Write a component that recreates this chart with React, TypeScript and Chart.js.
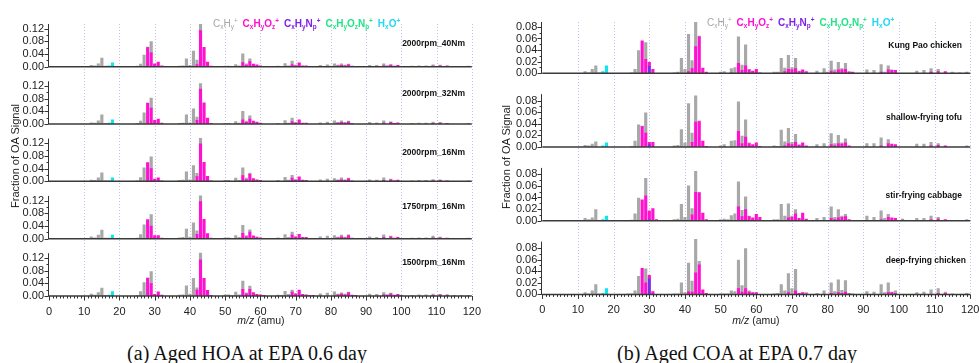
import React, { useEffect, useRef } from "react";
import { Chart, registerables } from "chart.js";

Chart.register(...registerables);

type Pt = [number, number];

// ---------- axis / tick definitions ----------
const MZ_MIN = 0;
const MZ_MAX = 120;
const MZ_STEP = 10;
const GRID_MZ = [10, 20, 30, 40, 50, 60, 70, 80, 90, 100, 110, 120];
const HOA_Y_TICKS = [0, 0.04, 0.08, 0.12];
const HOA_Y_MINOR = [0.02, 0.06, 0.1];
const COA_Y_TICKS = [0, 0.02, 0.04, 0.06, 0.08];
const COA_Y_MINOR = [0.01, 0.03, 0.05, 0.07];

const HOA_LABELS = ["2000rpm_40Nm", "2000rpm_32Nm", "2000rpm_16Nm", "1750rpm_16Nm", "1500rpm_16Nm"];
const COA_LABELS = ["Kung Pao chicken", "shallow-frying tofu", "stir-frying cabbage", "deep-frying chicken"];
const CAPTION_A = "(a) Aged HOA at EPA 0.6 day";
const CAPTION_B = "(b) Aged COA at EPA 0.7 day";
const Y_TITLE = "Fraction of OA Signal";

const FAMILY_KEYS = ["CHN", "CHO", "CHON", "HO", "CH"];
const FAMILY_NAMES: any = { CH: "CxHy+", CHO: "CxHyOz+", CHN: "CxHyNp+", CHON: "CxHyOzNp+", HO: "HxO+" };
const BAR_COLORS: any = { CH: "#a8a8a8", CHO: "#ff12cf", CHN: "#7a2fe6", CHON: "#20e080", HO: "#10e4f0" };
const LEGEND_COLORS: any = { CH: "#a6a6a6", CHO: "#ff10d0", CHN: "#7f22e8", CHON: "#22e486", HO: "#22d8f4" };

// ---------- (a) Aged HOA ----------
const HOA_40_CH: Pt[] = [[12,.004],[13,.003],[14,.009],[15,.027],[16,.002],[24,.001],[25,.002],[26,.008],[27,.037],[28,.002],[29,.035],[30,.001],[36,.001],[37,.002],[38,.003],[39,.025],[40,.004],[41,.049],[42,.014],[43,.021],[50,.002],[51,.002],[52,.001],[53,.007],[54,.003],[55,.028],[56,.004],[57,.009],[62,.001],[63,.001],[65,.002],[66,.001],[67,.010],[68,.003],[69,.011],[70,.002],[77,.004],[78,.001],[79,.006],[80,.002],[81,.009],[82,.002],[83,.005],[84,.002],[85,.002],[89,.001],[91,.004],[92,.001],[93,.004],[95,.006],[96,.001],[97,.002],[103,.002],[105,.003],[107,.003],[109,.004],[111,.002],[113,.001],[117,.001],[119,.002]];
const HOA_40_CHO: Pt[] = [[28,.060],[29,.044],[30,.008],[31,.015],[32,.003],[42,.007],[43,.114],[44,.061],[45,.015],[46,.002],[47,.001],[55,.013],[56,.005],[57,.016],[58,.008],[59,.006],[60,.003],[61,.001],[69,.007],[70,.003],[71,.012],[72,.003],[73,.003],[74,.001],[82,.003],[83,.004],[84,.003],[85,.006],[86,.002],[87,.001],[95,.003],[96,.002],[97,.005],[98,.002],[99,.004],[100,.001],[109,.002],[111,.003],[113,.002],[115,.001]];
const HOA_40_HO: Pt[] = [[17,.003],[18,.012]];

const HOA_32_CH: Pt[] = [[12,.004],[13,.003],[14,.010],[15,.029],[16,.002],[25,.002],[26,.009],[27,.035],[29,.032],[37,.002],[38,.003],[39,.029],[40,.004],[41,.048],[42,.010],[43,.018],[50,.002],[51,.002],[53,.008],[54,.003],[55,.027],[56,.004],[57,.010],[65,.002],[67,.011],[68,.003],[69,.011],[70,.002],[77,.004],[79,.006],[81,.010],[82,.002],[83,.005],[84,.002],[85,.002],[91,.005],[93,.004],[95,.007],[97,.002],[103,.002],[105,.003],[107,.003],[109,.004],[111,.002],[119,.002]];
const HOA_32_CHO: Pt[] = [[28,.066],[29,.050],[30,.012],[31,.016],[32,.003],[42,.012],[43,.110],[44,.067],[45,.019],[46,.002],[55,.013],[56,.005],[57,.016],[58,.009],[59,.006],[60,.003],[69,.008],[70,.003],[71,.013],[72,.003],[73,.003],[82,.003],[83,.005],[84,.003],[85,.007],[86,.002],[95,.003],[97,.005],[98,.002],[99,.004],[109,.002],[111,.003],[113,.002]];
const HOA_32_HO: Pt[] = [[17,.003],[18,.013]];

const HOA_2016_CH: Pt[] = [[12,.004],[13,.003],[14,.011],[15,.027],[16,.002],[25,.002],[26,.012],[27,.043],[29,.037],[37,.003],[38,.004],[39,.030],[40,.005],[41,.050],[42,.010],[43,.018],[50,.003],[51,.003],[53,.010],[54,.003],[55,.025],[56,.004],[57,.004],[65,.003],[67,.013],[68,.004],[69,.009],[70,.002],[77,.005],[79,.007],[81,.009],[82,.002],[83,.006],[84,.002],[85,.002],[91,.005],[93,.004],[95,.008],[97,.002],[103,.002],[105,.003],[107,.003],[109,.004],[111,.002],[119,.002]];
const HOA_2016_CHO: Pt[] = [[28,.059],[29,.040],[30,.007],[31,.011],[32,.002],[42,.015],[43,.118],[44,.060],[45,.016],[46,.002],[55,.018],[56,.006],[57,.022],[58,.009],[59,.005],[60,.003],[69,.010],[70,.004],[71,.014],[72,.004],[73,.003],[82,.003],[83,.005],[84,.003],[85,.008],[86,.002],[95,.003],[97,.005],[98,.002],[99,.004],[109,.002],[111,.003],[113,.002]];
const HOA_2016_HO: Pt[] = [[17,.002],[18,.011]];

const HOA_1750_CH: Pt[] = [[12,.006],[13,.003],[14,.011],[15,.027],[16,.002],[25,.002],[26,.013],[27,.044],[29,.036],[37,.003],[38,.004],[39,.030],[40,.005],[41,.050],[42,.011],[43,.018],[50,.003],[51,.003],[53,.010],[54,.004],[55,.025],[56,.004],[57,.007],[65,.003],[67,.013],[68,.004],[69,.010],[70,.002],[77,.006],[79,.008],[81,.010],[82,.002],[83,.005],[84,.002],[85,.002],[91,.006],[93,.004],[95,.008],[97,.002],[103,.002],[105,.003],[107,.003],[109,.005],[111,.002],[119,.002]];
const HOA_1750_CHO: Pt[] = [[28,.060],[29,.040],[30,.010],[31,.010],[32,.002],[42,.014],[43,.117],[44,.061],[45,.016],[46,.002],[55,.017],[56,.006],[57,.021],[58,.009],[59,.005],[60,.003],[69,.011],[70,.005],[71,.014],[72,.004],[73,.004],[82,.003],[83,.006],[84,.003],[85,.010],[86,.002],[95,.004],[97,.006],[98,.002],[99,.004],[109,.003],[111,.003],[113,.002]];
const HOA_1750_HO: Pt[] = [[17,.002],[18,.011]];

const HOA_1500_CH: Pt[] = [[12,.006],[13,.003],[14,.011],[15,.025],[16,.002],[25,.002],[26,.014],[27,.042],[28,.001],[29,.038],[37,.003],[38,.004],[39,.032],[40,.006],[41,.056],[42,.007],[43,.021],[50,.004],[51,.004],[52,.001],[53,.012],[54,.004],[55,.026],[56,.003],[57,.010],[60,.001],[65,.003],[66,.002],[67,.015],[68,.005],[69,.007],[70,.002],[77,.007],[79,.009],[81,.013],[82,.002],[83,.004],[84,.002],[85,.001],[91,.006],[93,.005],[95,.007],[96,.001],[97,.002],[103,.002],[105,.004],[107,.004],[109,.004],[111,.001],[113,.001],[115,.002],[117,.002],[119,.002]];
const HOA_1500_CHO: Pt[] = [[28,.056],[29,.039],[30,.005],[31,.013],[32,.003],[42,.019],[43,.114],[44,.056],[45,.018],[46,.002],[55,.021],[56,.007],[57,.021],[58,.011],[59,.005],[60,.003],[61,.002],[69,.012],[70,.006],[71,.019],[72,.005],[73,.004],[74,.002],[75,.002],[82,.004],[83,.006],[84,.004],[85,.011],[86,.003],[87,.002],[95,.004],[96,.003],[97,.007],[98,.003],[99,.005],[100,.002],[109,.002],[111,.004],[113,.003]];
const HOA_1500_HO: Pt[] = [[17,.003],[18,.014]];

// ---------- (b) Aged COA ----------
const KPC_CH: Pt[] = [[12,.003],[13,.001],[14,.007],[15,.013],[16,.001],[25,.001],[26,.007],[27,.039],[29,.029],[37,.001],[38,.002],[39,.026],[40,.007],[41,.064],[42,.014],[43,.044],[44,.001],[50,.002],[51,.003],[53,.007],[54,.010],[55,.046],[56,.009],[57,.036],[58,.001],[65,.002],[66,.002],[67,.026],[68,.006],[69,.024],[70,.004],[71,.018],[72,.001],[77,.004],[79,.008],[80,.002],[81,.017],[82,.004],[83,.013],[84,.002],[85,.010],[86,.001],[91,.006],[93,.005],[95,.013],[96,.002],[97,.007],[98,.001],[105,.004],[107,.005],[109,.006],[111,.004],[115,.002],[117,.001],[119,.002]];
const KPC_CHO: Pt[] = [[28,.056],[29,.024],[30,.007],[31,.007],[41,.003],[42,.008],[43,.046],[44,.063],[45,.009],[46,.002],[53,.001],[55,.017],[56,.005],[57,.013],[58,.006],[59,.004],[60,.007],[61,.001],[68,.003],[69,.007],[70,.006],[71,.008],[72,.003],[73,.006],[74,.003],[81,.004],[82,.002],[83,.006],[84,.006],[85,.007],[86,.002],[87,.002],[95,.002],[97,.006],[98,.005],[99,.005],[109,.002],[111,.003],[113,.003]];
const KPC_CHN: Pt[] = [[30,.012]];
const KPC_HO: Pt[] = [[17,.003],[18,.013]];

const SFT_CH: Pt[] = [[12,.003],[13,.002],[14,.005],[15,.009],[25,.001],[26,.010],[27,.038],[28,.001],[29,.035],[37,.002],[38,.003],[39,.030],[40,.007],[41,.075],[42,.016],[43,.045],[44,.001],[50,.002],[51,.004],[53,.010],[54,.011],[55,.051],[56,.013],[57,.030],[58,.001],[65,.002],[66,.001],[67,.029],[68,.007],[69,.026],[70,.004],[71,.014],[72,.001],[77,.004],[79,.006],[81,.019],[82,.004],[83,.014],[84,.002],[85,.007],[91,.006],[93,.006],[95,.014],[97,.007],[105,.005],[107,.005],[109,.006],[111,.003],[119,.002]];
const SFT_CHO: Pt[] = [[28,.035],[29,.024],[30,.004],[31,.008],[42,.008],[43,.043],[44,.044],[45,.010],[46,.001],[55,.027],[56,.006],[57,.017],[58,.006],[59,.004],[60,.007],[61,.001],[68,.002],[69,.006],[70,.004],[71,.008],[72,.003],[73,.007],[74,.002],[81,.004],[82,.002],[83,.006],[84,.005],[85,.007],[86,.002],[95,.002],[97,.006],[98,.005],[99,.004],[109,.002],[111,.003],[113,.002]];
const SFT_CHN: Pt[] = [[30,.004]];
const SFT_HO: Pt[] = [[17,.002],[18,.007]];

const SFC_CH: Pt[] = [[12,.004],[13,.002],[14,.005],[15,.019],[25,.001],[26,.012],[27,.039],[29,.030],[37,.002],[38,.003],[39,.028],[40,.006],[41,.060],[42,.011],[43,.036],[44,.001],[50,.002],[51,.003],[52,.002],[53,.009],[54,.012],[55,.043],[56,.011],[57,.022],[58,.001],[65,.002],[66,.002],[67,.028],[68,.008],[69,.024],[70,.002],[71,.007],[77,.004],[79,.006],[81,.020],[82,.004],[83,.014],[84,.002],[85,.004],[91,.008],[93,.006],[95,.015],[96,.004],[97,.005],[101,.002],[105,.004],[107,.004],[109,.006],[111,.003],[119,.002]];
const SFC_CHO: Pt[] = [[28,.036],[29,.043],[30,.015],[31,.021],[32,.002],[42,.010],[43,.049],[44,.048],[45,.013],[46,.002],[55,.024],[56,.007],[57,.019],[58,.007],[59,.005],[60,.011],[61,.006],[69,.005],[70,.006],[71,.012],[72,.004],[73,.013],[74,.003],[81,.004],[82,.002],[83,.005],[84,.006],[85,.007],[86,.002],[95,.002],[97,.006],[98,.005],[99,.004],[101,.001],[109,.002],[111,.003],[113,.002]];
const SFC_CHN: Pt[] = [[30,.002]];
const SFC_HO: Pt[] = [[17,.002],[18,.008]];

const DFC_CH: Pt[] = [[12,.003],[13,.001],[14,.006],[15,.017],[16,.001],[24,.001],[25,.001],[26,.006],[27,.031],[29,.024],[37,.001],[38,.001],[39,.020],[40,.003],[41,.049],[42,.019],[43,.058],[44,.006],[50,.001],[51,.001],[52,.001],[53,.006],[54,.005],[55,.049],[56,.011],[57,.069],[58,.002],[65,.001],[66,.002],[67,.017],[68,.006],[69,.033],[70,.010],[71,.037],[74,.002],[77,.002],[79,.006],[81,.018],[82,.005],[83,.022],[84,.005],[85,.020],[86,.001],[87,.001],[91,.005],[93,.004],[95,.017],[96,.003],[97,.017],[98,.001],[99,.004],[105,.003],[107,.004],[109,.008],[111,.008],[113,.002],[115,.001],[119,.002]];
const DFC_CHO: Pt[] = [[28,.045],[29,.020],[30,.006],[31,.005],[41,.005],[42,.004],[43,.037],[44,.051],[45,.008],[46,.002],[55,.010],[56,.004],[57,.010],[58,.004],[59,.003],[60,.003],[69,.003],[71,.006],[72,.002],[73,.003],[74,.001],[81,.002],[83,.003],[84,.002],[85,.004],[86,.001],[97,.003],[98,.003],[99,.002],[111,.002],[113,.002]];
const DFC_CHN: Pt[] = [[30,.027]];
const DFC_HO: Pt[] = [[17,.002],[18,.010]];

const NONE: Pt[] = [];

const HOA_SERIES = [
  { CH: HOA_40_CH, CHO: HOA_40_CHO, CHN: NONE, CHON: NONE, HO: HOA_40_HO },
  { CH: HOA_32_CH, CHO: HOA_32_CHO, CHN: NONE, CHON: NONE, HO: HOA_32_HO },
  { CH: HOA_2016_CH, CHO: HOA_2016_CHO, CHN: NONE, CHON: NONE, HO: HOA_2016_HO },
  { CH: HOA_1750_CH, CHO: HOA_1750_CHO, CHN: NONE, CHON: NONE, HO: HOA_1750_HO },
  { CH: HOA_1500_CH, CHO: HOA_1500_CHO, CHN: NONE, CHON: NONE, HO: HOA_1500_HO },
];
const COA_SERIES = [
  { CH: KPC_CH, CHO: KPC_CHO, CHN: KPC_CHN, CHON: NONE, HO: KPC_HO },
  { CH: SFT_CH, CHO: SFT_CHO, CHN: SFT_CHN, CHON: NONE, HO: SFT_HO },
  { CH: SFC_CH, CHO: SFC_CHO, CHN: SFC_CHN, CHON: NONE, HO: SFC_HO },
  { CH: DFC_CH, CHO: DFC_CHO, CHN: DFC_CHN, CHON: NONE, HO: DFC_HO },
];

// ---------- layout ----------
const FONT = "'Liberation Sans', Arial, Helvetica, sans-serif";
const LEFT_PANEL = {
  left: 0, width: 490, height: 330, axisWidth: 49,
  pad: { left: 0, top: 24, right: 17, bottom: 6 }, xAxisHeight: 28,
  weights: [42.7, 57.3, 57.3, 57.3, 57.3], maxes: [0.1347, 0.1808, 0.1808, 0.1808, 0.1808],
  axisTop: 0.135, yTicks: HOA_Y_TICKS, yMinor: HOA_Y_MINOR, series: HOA_SERIES,
};
const RIGHT_PANEL = {
  left: 490, width: 510, height: 330, axisWidth: 52.3,
  pad: { left: 0, top: 22, right: 29.7, bottom: 7.6 }, xAxisHeight: 28,
  weights: [51.3, 73.7, 73.7, 73.7], maxes: [0.0884, 0.127, 0.127, 0.127],
  axisTop: 0.091, yTicks: COA_Y_TICKS, yMinor: COA_Y_MINOR, series: COA_SERIES,
};

const panelAxesPlugin = {
  id: "panelAxes",
  beforeDatasetsDraw(chart: any, _a: any, opts: any) {
    const { ctx, chartArea } = chart;
    const xs = chart.scales.x;
    ctx.save();
    ctx.strokeStyle = "#c2c2ec";
    ctx.lineWidth = 1;
    ctx.setLineDash([1, 2]);
    for (const v of opts.grid) {
      const px = Math.round(xs.getPixelForValue(v)) + 0.5;
      ctx.beginPath();
      ctx.moveTo(px, chartArea.top);
      ctx.lineTo(px, chartArea.bottom);
      ctx.stroke();
    }
    ctx.restore();
  },
  afterDatasetsDraw(chart: any, _a: any, opts: any) {
    const { ctx, chartArea } = chart;
    const xs = chart.scales.x;
    const ln = (x1: number, y1: number, x2: number, y2: number) => {
      ctx.beginPath(); ctx.moveTo(x1, y1); ctx.lineTo(x2, y2); ctx.stroke();
    };
    ctx.save();
    ctx.strokeStyle = "#333";
    const ax = Math.round(xs.getPixelForValue(opts.xMin)) - 0.5;
    let lastBase = 0;
    opts.yIds.forEach((id: string) => {
      const s = chart.scales[id];
      const y0 = s.getPixelForValue(0);
      lastBase = y0;
      ctx.lineWidth = 1.5;
      ctx.strokeStyle = "#3a3a3a";
      ln(chartArea.left, y0, chartArea.right, y0);
      ctx.lineWidth = 1;
      ctx.strokeStyle = "#333";
      ln(ax, y0 + 0.5, ax, s.getPixelForValue(Math.min(opts.axisTop, s.max)));
      for (const v of opts.yTicks) {
        const p = Math.round(s.getPixelForValue(v)) + 0.5;
        ln(ax - 4, p, ax, p);
      }
      for (const v of opts.yMinor) {
        const p = Math.round(s.getPixelForValue(v)) + 0.5;
        ln(ax - 2, p, ax, p);
      }
    });
    ctx.lineWidth = 1;
    for (let v = opts.xMin; v <= opts.xMax; v += 1) {
      const px = Math.round(xs.getPixelForValue(v)) + 0.5;
      ln(px, lastBase, px, lastBase + (v % opts.xStep === 0 ? 4.5 : 2.5));
    }
    ctx.restore();
  },
};

function buildConfig(p: any) {
  const datasets: any[] = [];
  const scales: any = {
    x: {
      type: "linear", position: "bottom", min: MZ_MIN, max: MZ_MAX, stacked: true, offset: false,
      grid: { display: false, drawTicks: false, offset: false }, border: { display: false },
      afterFit: (s: any) => { s.height = p.xAxisHeight; },
      ticks: { stepSize: MZ_STEP, autoSkip: false, maxRotation: 0, padding: 9, color: "#222", font: { size: 11, family: FONT } },
    },
  };
  const yIds: string[] = [];
  p.series.forEach((ser: any, i: number) => {
    const id = "y" + i;
    yIds.push(id);
    scales[id] = {
      type: "linear", position: "left", stack: "panel", stackWeight: p.weights[i], weight: 20 - i,
      min: 0, max: p.maxes[i], stacked: true, offset: false,
      grid: { display: false, drawTicks: false }, border: { display: false },
      afterBuildTicks: (s: any) => { s.ticks = p.yTicks.map((v: number) => ({ value: v })); },
      afterFit: (s: any) => { s.width = p.axisWidth; },
      ticks: { autoSkip: false, padding: 5, color: "#222", font: { size: 11, family: FONT },
        callback: (v: any) => Number(v).toFixed(2) },
    };
    FAMILY_KEYS.forEach((k) => {
      datasets.push({
        label: FAMILY_NAMES[k],
        data: ser[k].map(([x, y]: Pt) => ({ x, y })),
        xAxisID: "x", yAxisID: id, stack: "all",
        backgroundColor: BAR_COLORS[k], borderWidth: 0, barThickness: 2.5,
      });
    });
  });
  return {
    type: "bar",
    data: { datasets },
    plugins: [panelAxesPlugin],
    options: {
      animation: false, responsive: false, maintainAspectRatio: false,
      layout: { padding: p.pad },
      scales,
      plugins: {
        legend: { display: false }, tooltip: { enabled: false },
        panelAxes: { grid: GRID_MZ, yIds, axisTop: p.axisTop, yTicks: p.yTicks, yMinor: p.yMinor, xMin: MZ_MIN, xMax: MZ_MAX, xStep: MZ_STEP },
      },
    },
  };
}

function Panel({ p }: { p: any }) {
  const ref = useRef<HTMLCanvasElement>(null);
  useEffect(() => {
    const chart = new Chart(ref.current as any, buildConfig(p) as any);
    return () => chart.destroy();
  }, [p]);
  return (
    <canvas ref={ref} width={p.width} height={p.height}
      style={{ position: "absolute", left: p.left, top: 0, width: p.width, height: p.height }} />
  );
}

const SUB: any = { fontSize: "0.64em", verticalAlign: "-0.32em", lineHeight: 0 };
const SUP: any = { fontSize: "0.64em", verticalAlign: "0.62em", lineHeight: 0 };

function Legend({ left, top }: { left: number; top: number }) {
  const gap = { marginLeft: 5 };
  return (
    <div style={{ position: "absolute", left, top, font: `bold 10px ${FONT}`, lineHeight: "12px", whiteSpace: "nowrap" }}>
      <span style={{ color: LEGEND_COLORS.CH, fontWeight: "normal" }}>C<span style={SUB}>x</span>H<span style={SUB}>y</span><span style={SUP}>+</span></span>
      <span style={{ ...gap, color: LEGEND_COLORS.CHO }}>C<span style={SUB}>x</span>H<span style={SUB}>y</span>O<span style={SUB}>z</span><span style={SUP}>+</span></span>
      <span style={{ ...gap, color: LEGEND_COLORS.CHN }}>C<span style={SUB}>x</span>H<span style={SUB}>y</span>N<span style={SUB}>p</span><span style={SUP}>+</span></span>
      <span style={{ ...gap, color: LEGEND_COLORS.CHON }}>C<span style={SUB}>x</span>H<span style={SUB}>y</span>O<span style={SUB}>z</span>N<span style={SUB}>p</span><span style={SUP}>+</span></span>
      <span style={{ ...gap, color: LEGEND_COLORS.HO }}>H<span style={SUB}>x</span>O<span style={SUP}>+</span></span>
    </div>
  );
}

function RightText({ text, right, cy }: { text: string; right: number; cy: number }) {
  return (
    <div style={{ position: "absolute", left: right - 200, top: cy - 5, width: 200, textAlign: "right",
      font: `bold 8.5px ${FONT}`, lineHeight: "10px", color: "#111", whiteSpace: "nowrap" }}>{text}</div>
  );
}

function YTitle({ cx, cy }: { cx: number; cy: number }) {
  return (
    <div style={{ position: "absolute", left: cx - 100, top: cy - 7, width: 200, height: 14, lineHeight: "14px",
      textAlign: "center", transform: "rotate(-90deg)", font: `11px ${FONT}`, color: "#222", whiteSpace: "nowrap" }}>{Y_TITLE}</div>
  );
}

function XTitle({ cx, cy }: { cx: number; cy: number }) {
  return (
    <div style={{ position: "absolute", left: cx - 60, top: cy - 6, width: 120, lineHeight: "12px", textAlign: "center",
      font: `10.5px ${FONT}`, color: "#222" }}><i>m/z</i> (amu)</div>
  );
}

function Caption({ text, cx }: { text: string; cx: number }) {
  return (
    <div style={{ position: "absolute", left: cx - 200, top: 342, width: 400, textAlign: "center", lineHeight: "20px",
      font: `20px 'Liberation Serif', 'Times New Roman', serif`, color: "#111", whiteSpace: "nowrap" }}>{text}</div>
  );
}

const HOA_LABEL_Y = [43, 93, 152, 206, 262];
const COA_LABEL_Y = [45, 117, 195, 260];
const COA_LABEL_R = [962, 962, 962, 966];

export default function App() {
  return (
    <div style={{ position: "absolute", left: 0, top: 0, width: 979, height: 363, overflow: "hidden", background: "#fff" }}>
      <Panel p={LEFT_PANEL} />
      <Panel p={RIGHT_PANEL} />
      <Legend left={213} top={18} />
      <Legend left={707} top={16.5} />
      {HOA_LABELS.map((t, i) => <RightText key={t} text={t} right={465} cy={HOA_LABEL_Y[i]} />)}
      {COA_LABELS.map((t, i) => <RightText key={t} text={t} right={COA_LABEL_R[i]} cy={COA_LABEL_Y[i]} />)}
      <YTitle cx={16} cy={156} />
      <YTitle cx={507} cy={157} />
      <XTitle cx={261} cy={320} />
      <XTitle cx={756} cy={320} />
      <Caption text={CAPTION_A} cx={247} />
      <Caption text={CAPTION_B} cx={737} />
    </div>
  );
}
